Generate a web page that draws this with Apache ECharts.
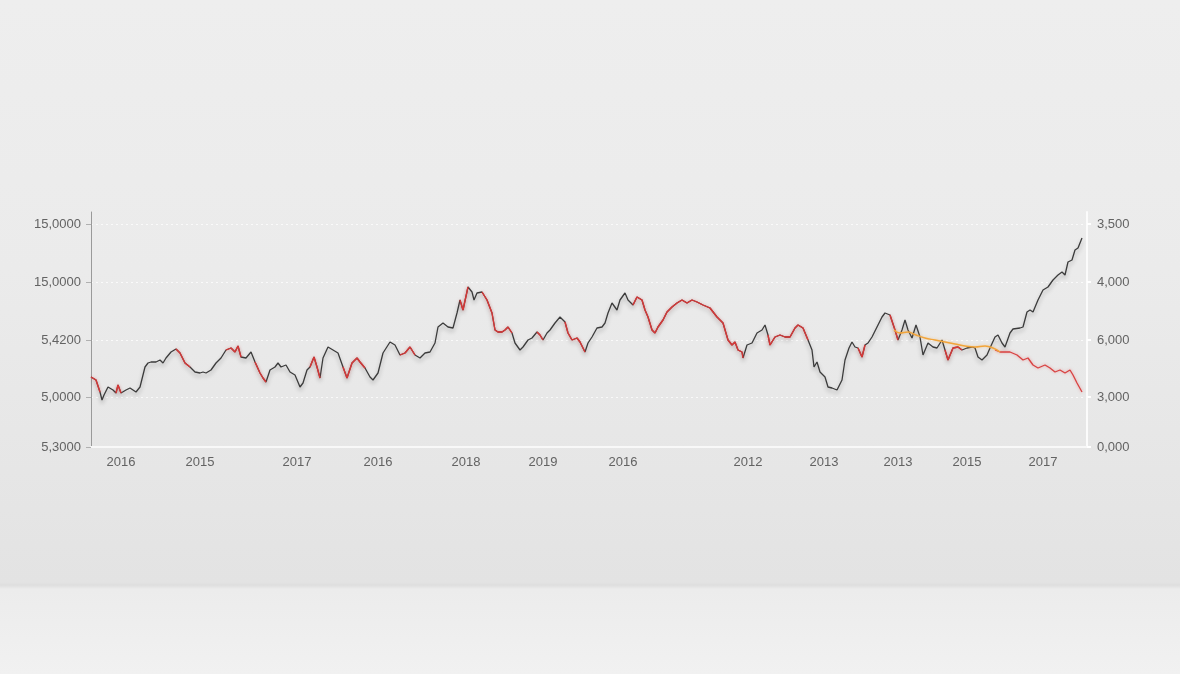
<!DOCTYPE html>
<html>
<head>
<meta charset="utf-8">
<script src="https://cdn.jsdelivr.net/npm/echarts@6/dist/echarts.min.js"></script>
<style>
html,body{margin:0;padding:0;width:1180px;height:674px;overflow:hidden;}
body{background:linear-gradient(to bottom,#eeeeee 0%,#ebebeb 40%,#e6e6e6 70%,#e3e3e3 86.4%,#dedede 86.8%,#ececec 87.4%,#f1f1f1 100%);}
#c{width:1180px;height:674px;}
</style>
</head>
<body>
<div id="c"></div>
<script>
// x positions of category labels (data units along the time axis)
const xTickValues = [30,109,206,287,375,452,532,657,733,807,876,952];
const xTickLabels = ['2016','2015','2017','2016','2018','2019','2016','2012','2013','2013','2015','2017'];

const yTickValues = [0,50,107,165,223];
const yLeftLabels = ['5,3000','5,0000','5,4200','15,0000','15,0000'];
const yRightLabels = ['0,000','3,000','6,000','4,000','3,500'];

// main wiggly series
const mainX = [0,5,9,11,13,17,22,25,27,30,35,39,42,45,49,54,57,60,65,69,72,75,80,85,89,94,99,104,109,112,115,120,125,130,135,140,144,147,150,155,160,164,169,172,175,179,184,187,190,195,199,204,209,212,216,219,223,226,229,232,237,242,247,252,256,261,266,269,274,279,282,287,292,299,304,309,314,319,324,329,334,339,344,347,352,357,362,366,369,372,377,381,383,386,391,396,401,404,407,411,414,417,421,424,429,432,437,441,446,449,452,456,459,464,469,474,477,481,486,489,494,497,501,506,511,514,517,521,526,529,534,537,542,546,551,554,557,561,564,567,572,576,581,586,591,596,601,606,612,619,626,632,637,641,644,647,651,652,656,661,666,671,674,677,679,684,689,694,699,704,707,712,717,721,723,726,729,734,737,741,746,751,754,758,761,764,767,771,774,777,781,786,791,794,799,804,807,811,814,817,821,825,829,832,837,842,846,851,854,857,862,867,871,876,881,884,887,891,896,899,904,907,911,914,919,922,929,932,936,939,942,947,952,957,962,967,971,974,977,981,984,987,991];
const mainY = [70,67,55,47,52,60,57,54,62,54,57,59,57,55,60,80,84,85,85,87,84,89,95,98,94,84,80,75,74,75,74,77,84,89,97,99,95,101,90,89,95,85,74,69,65,77,80,84,80,82,75,72,60,64,77,80,90,80,69,89,100,97,94,80,69,84,89,85,79,70,67,74,94,105,102,92,94,100,92,89,94,95,104,120,124,120,119,134,147,137,160,155,147,154,155,147,134,117,115,115,117,120,114,104,97,100,107,109,115,112,107,114,117,124,130,125,114,107,109,105,95,104,110,119,120,124,134,144,137,147,154,147,142,150,147,137,130,117,114,120,127,135,140,144,147,144,147,145,142,139,130,124,107,102,105,97,95,89,102,104,114,117,122,112,102,110,112,110,110,119,122,119,107,97,80,85,75,70,60,59,57,67,87,99,105,100,99,90,102,104,110,120,130,134,132,117,107,117,127,117,109,122,110,92,104,100,99,107,97,87,99,100,97,99,100,99,90,87,92,99,110,112,104,100,114,118,119,120,135,137,135,147,157,160,167,172,175,172,185,187,197,199,209];

// stretches of the main line drawn in red
const redRanges = [[0,10],[24,30],[83,99],[133,151],[161,175],[218,231],[251,277],[305,327],[367,379],[391,421],[442,452],[471,496],[539,557],[559,654],[676,719],[767,775],[797,809],[854,871]];

// descending red branch at the end
const branchX = [904,909,919,926,932,937,942,947,954,959,964,969,974,979,982,986,991];
const branchY = [97,95,95,92,87,89,82,79,82,79,75,77,74,77,72,64,55];

// smooth orange line
const orangeX = [803,809,817,825,834,844,854,864,874,884,894,902,909];
const orangeY = [117,114,115,112,109,107,105,103,101,100,101,99,95];

const zip = (xs, ys) => xs.map((x, i) => [x, ys[i]]);
const inRed = x => redRanges.some(r => x >= r[0] && x <= r[1]);
const mainData = zip(mainX, mainY);
const redData = mainData.map(p => inRed(p[0]) ? p : [p[0], null]);

const shadow = {shadowColor:'rgba(0,0,0,0.28)', shadowBlur:4, shadowOffsetY:3};
const labelStyle = {color:'#636363', fontSize:13, fontFamily:'Liberation Sans, Arial, sans-serif'};

const chart = echarts.init(document.getElementById('c'), null, {renderer:'canvas'});
chart.setOption({
  backgroundColor:'transparent',
  animation:false,
  grid:{left:91, right:93, top:212, bottom:227},
  xAxis:{
    type:'value', min:0, max:996,
    axisLine:{show:true, onZero:false, lineStyle:{color:'#f8f8f8', width:2}},
    axisTick:{show:false},
    splitLine:{show:false},
    axisLabel:Object.assign({
      customValues:xTickValues,
      margin:9,
      formatter:v => { const i = xTickValues.indexOf(v); return i >= 0 ? xTickLabels[i] : ''; }
    }, labelStyle)
  },
  yAxis:[{
    type:'value', min:0, max:235, position:'left',
    axisLine:{show:true, lineStyle:{color:'#9a9a9a', width:1}},
    axisTick:{show:true, length:5, customValues:yTickValues, lineStyle:{color:'#b0b0b0'}},
    splitLine:{show:true, lineStyle:{color:'rgba(255,255,255,0.75)', type:[2,3], width:1}},
    axisLabel:Object.assign({
      customValues:yTickValues, margin:10,
      formatter:v => { const i = yTickValues.indexOf(v); return i >= 0 ? yLeftLabels[i] : ''; }
    }, labelStyle)
  },{
    type:'value', min:0, max:235, position:'right',
    axisLine:{show:true, lineStyle:{color:'#fbfbfb', width:2}},
    axisTick:{show:true, length:4, customValues:yTickValues, lineStyle:{color:'#ffffff', width:2}},
    splitLine:{show:false},
    axisLabel:Object.assign({
      customValues:yTickValues, margin:10,
      formatter:v => { const i = yTickValues.indexOf(v); return i >= 0 ? yRightLabels[i] : ''; }
    }, labelStyle)
  }],
  series:[
    {type:'line', data:mainData, symbol:'none', z:3,
     lineStyle:Object.assign({color:'#3b3b3b', width:1.3}, shadow)},
    {type:'line', data:redData, symbol:'none', z:4, connectNulls:false,
     lineStyle:{color:'#d93636', width:1.3, shadowColor:'rgba(230,80,80,0.5)', shadowBlur:3}},
    {type:'line', data:zip(orangeX, orangeY), symbol:'none', z:5, smooth:0.4,
     lineStyle:{color:'#f2a53a', width:1.4, shadowColor:'rgba(240,160,60,0.45)', shadowBlur:3}},
    {type:'line', data:zip(branchX, branchY), symbol:'none', z:4,
     lineStyle:{color:'#d84242', width:1.3, shadowColor:'rgba(230,80,80,0.5)', shadowBlur:3}}
  ]
});
</script>
</body>
</html>
